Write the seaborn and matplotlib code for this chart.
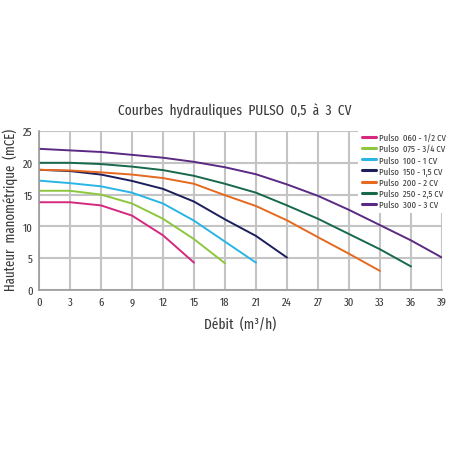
import numpy as np
import pandas as pd
import matplotlib
matplotlib.use("Agg")
import matplotlib.pyplot as plt
import seaborn as sns

# courbes (debit m3/h -> hauteur mCE)
debit_060 = [0, 3, 6, 9, 12, 15]
haut_060 = [13.8, 13.8, 13.3, 11.7, 8.6, 4.3]

debit_075 = [0, 3, 6, 9, 12, 15, 18]
haut_075 = [15.6, 15.6, 15.0, 13.6, 11.2, 8.0, 4.2]

debit_100 = [0, 3, 6, 9, 12, 15, 18, 21]
haut_100 = [17.2, 16.8, 16.3, 15.3, 13.6, 10.9, 7.6, 4.3]

debit_150 = [0, 3, 6, 9, 12, 15, 18, 21, 24]
haut_150 = [18.9, 18.7, 18.15, 17.15, 15.9, 13.9, 11.1, 8.5, 5.1]

debit_200 = [0, 3, 6, 9, 12, 15, 18, 21, 24, 27, 30, 33]
haut_200 = [18.9, 18.8, 18.5, 18.15, 17.6, 16.7, 14.9, 13.2, 10.95, 8.3, 5.7, 3.0]

debit_250 = [0, 3, 6, 9, 12, 15, 18, 21, 24, 27, 30, 33, 36]
haut_250 = [20.0, 20.0, 19.8, 19.4, 18.85, 17.95, 16.7, 15.3, 13.3, 11.2, 8.8, 6.4, 3.7]

debit_300 = [0, 3, 6, 9, 12, 15, 18, 21, 24, 27, 30, 33, 36, 39]
haut_300 = [22.2, 21.95, 21.7, 21.25, 20.8, 20.15, 19.3, 18.2, 16.6, 14.8, 12.6, 10.2, 7.8, 5.1]

modeles = ["Pulso  060 - 1/2 CV", "Pulso  075 - 3/4 CV", "Pulso  100 - 1 CV",
           "Pulso  150 - 1,5 CV", "Pulso  200 - 2 CV", "Pulso  250 - 2,5 CV",
           "Pulso  300 - 3 CV"]
couleurs = ["#d6287f", "#8dc63f", "#29b5e6", "#1c1f5c", "#e5691e", "#17694a", "#5a2a84"]

x_ticks = list(range(0, 40, 3))
y_ticks = [0, 5, 10, 15, 20, 25]

debits = [debit_060, debit_075, debit_100, debit_150, debit_200, debit_250, debit_300]
hauteurs = [haut_060, haut_075, haut_100, haut_150, haut_200, haut_250, haut_300]

rows = []
for nom, xs, ys in zip(modeles, debits, hauteurs):
    for a, b in zip(xs, ys):
        rows.append((nom, a, b))
df = pd.DataFrame(rows, columns=["modele", "debit", "hauteur"])

sns.set_style("white")
plt.rcParams['font.family'] = ['Fira Sans Extra Condensed', 'DejaVu Sans']
texte = "#3a3a3a"

fig = plt.figure(figsize=(4.52, 4.52), dpi=100)
ax = fig.add_axes([39 / 452, 1 - 291 / 452, 403 / 452, 159 / 452])

sns.lineplot(data=df, x="debit", y="hauteur", hue="modele", hue_order=modeles,
             palette=couleurs, linewidth=1.4, ax=ax, sort=False, estimator=None)

ax.set_xlim(0, 39)
ax.set_ylim(0, 25)
ax.set_xticks(x_ticks)
ax.set_yticks(y_ticks)
ax.tick_params(length=0, labelsize=8.3, colors=texte, pad=4.5)
ax.grid(True, color="#c4c4c4", linewidth=1.5)
ax.set_axisbelow(True)
for s in ["top", "right"]:
    ax.spines[s].set_visible(False)
for s in ["left", "bottom"]:
    ax.spines[s].set_color("#9a9a9a")
    ax.spines[s].set_linewidth(1.2)

ax.set_xlabel("Débit  (m³/h)", fontsize=10.5, color=texte, va="center")
ax.set_ylabel("Hauteur  manométrique  (mCE)", fontsize=10, color=texte, va="center")
ax.xaxis.set_label_coords((240 - 39) / 403, (291 - 325) / 159)
ax.yaxis.set_label_coords((10 - 39) / 403, (291 - 210) / 159)
fig.text(235 / 452, 1 - 111 / 452, "Courbes  hydrauliques  PULSO  0,5  à  3  CV",
         ha="center", va="center", fontsize=10.5, color=texte)

leg = ax.legend(loc="upper left", bbox_to_anchor=(358 / 452, 1 - 130 / 452),
                bbox_transform=fig.transFigure, frameon=True, fontsize=6.8,
                handlelength=1.5, handletextpad=0.3, labelspacing=0.22,
                borderpad=0.45, borderaxespad=0)
leg.get_frame().set_facecolor("white")
leg.get_frame().set_edgecolor("none")
leg.get_frame().set_alpha(1)
for t in leg.get_texts():
    t.set_color(texte)
for l in leg.get_lines():
    l.set_linewidth(2.2)

fig.savefig("out.png", dpi=100, facecolor="white")
